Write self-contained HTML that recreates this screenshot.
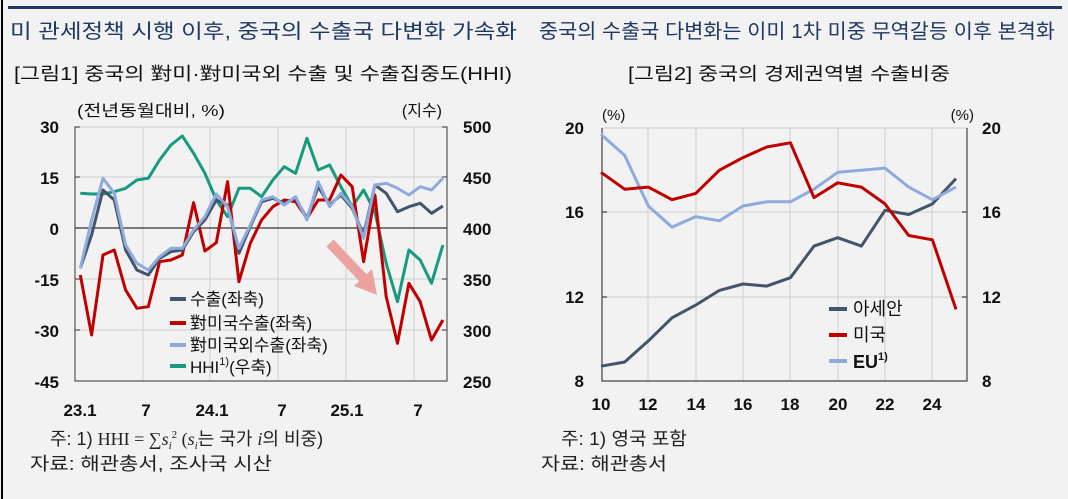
<!DOCTYPE html>
<html><head><meta charset="utf-8">
<style>
html,body{margin:0;padding:0;background:#f2f2f2;}
svg{display:block;font-family:"Liberation Sans","Noto Sans CJK KR",sans-serif;}
</style></head>
<body>
<svg id="s" width="1068" height="499" viewBox="0 0 1068 499" xmlns="http://www.w3.org/2000/svg">
<rect x="0" y="0" width="1068" height="499" fill="#f2f2f2"/>
<line x1="2" y1="0" x2="2" y2="499" stroke="#000" stroke-width="2"/>
<line x1="8" y1="7.5" x2="1062" y2="7.5" stroke="#1f3864" stroke-width="3"/>
<text x="10" y="38" font-size="20" fill="#1f3864" textLength="507" lengthAdjust="spacingAndGlyphs">미 관세정책 시행 이후, 중국의 수출국 다변화 가속화</text>
<text x="539" y="38" font-size="20" fill="#1f3864" textLength="516" lengthAdjust="spacingAndGlyphs">중국의 수출국 다변화는 이미 1차 미중 무역갈등 이후 본격화</text>
<text x="14" y="80" font-size="18" fill="#111" textLength="498" lengthAdjust="spacingAndGlyphs">[그림1] 중국의 對미·對미국외 수출 및 수출집중도(HHI)</text>
<text x="628" y="80" font-size="18" fill="#111" textLength="322" lengthAdjust="spacingAndGlyphs">[그림2] 중국의 경제권역별 수출비중</text>

<!-- chart 1 -->
<g id="c1">
<g stroke="#cfcfcf" stroke-width="1">
<line x1="143" y1="127" x2="143" y2="381"/><line x1="210" y1="127" x2="210" y2="381"/>
<line x1="278" y1="127" x2="278" y2="381"/><line x1="346" y1="127" x2="346" y2="381"/>
<line x1="414" y1="127" x2="414" y2="381"/>
<line x1="75" y1="127" x2="447" y2="127"/><line x1="75" y1="177" x2="447" y2="177"/>
<line x1="75" y1="279" x2="447" y2="279"/><line x1="75" y1="330" x2="447" y2="330"/>
</g>
<line x1="75" y1="228" x2="447" y2="228" stroke="#333" stroke-width="1.3"/>
<g stroke="#555" stroke-width="1.2" fill="none">
<path d="M80 127 H75 V381 H447 V127 H442"/>
<path d="M75 177 h5 M75 279 h5 M75 330 h5 M447 177 h-5 M447 279 h-5 M447 330 h-5"/>
</g>
<g font-size="17" font-weight="bold" fill="#111" text-anchor="end">
<text x="59" y="133">30</text><text x="59" y="184">15</text><text x="59" y="235">0</text>
<text x="59" y="286">-15</text><text x="59" y="337">-30</text><text x="59" y="388">-45</text>
</g>
<g font-size="17" font-weight="bold" fill="#111">
<text x="463" y="133">500</text><text x="463" y="184">450</text><text x="463" y="235">400</text>
<text x="463" y="286">350</text><text x="463" y="337">300</text><text x="463" y="388">250</text>
</g>
<g font-size="17" font-weight="bold" fill="#111" text-anchor="middle">
<text x="80" y="416">23.1</text><text x="146" y="416">7</text><text x="212" y="416">24.1</text>
<text x="282" y="416">7</text><text x="347" y="416">25.1</text><text x="418" y="416">7</text>
</g>
<text x="77" y="116" font-size="16" fill="#111" textLength="148" lengthAdjust="spacingAndGlyphs">(전년동월대비, %)</text>
<text x="442" y="116" font-size="16" fill="#111" text-anchor="end">(지수)</text>
<!-- arrow -->
<line x1="330" y1="243" x2="366" y2="281" stroke="#eba3a0" stroke-width="10"/>
<polygon points="377,295 354,286 372,269" fill="#eba3a0"/>
<polyline id="g1" fill="none" stroke="#179a7e" stroke-width="3" stroke-linejoin="round"/>
<polyline id="r1" fill="none" stroke="#c00000" stroke-width="3" stroke-linejoin="round"/>
<polyline id="d1" fill="none" stroke="#44546a" stroke-width="3" stroke-linejoin="round"/>
<polyline id="l1" fill="none" stroke="#8faadc" stroke-width="3" stroke-linejoin="round"/>
<g stroke-width="4">
<line x1="170" y1="299" x2="186" y2="299" stroke="#44546a"/>
<line x1="170" y1="323" x2="186" y2="323" stroke="#c00000"/>
<line x1="170" y1="345" x2="186" y2="345" stroke="#8faadc"/>
<line x1="170" y1="366" x2="186" y2="366" stroke="#179a7e"/>
</g>
<g font-size="17" fill="#111">
<text x="190" y="305">수출(좌축)</text>
<text x="190" y="329">對미국수출(좌축)</text>
<text x="190" y="351">對미국외수출(좌축)</text>
<text x="190" y="373">HHI<tspan font-size="11" dy="-8">1)</tspan><tspan dy="8">(우축)</tspan></text>
</g>
</g>

<!-- chart 2 -->
<g id="c2">
<g stroke="#cfcfcf" stroke-width="1">
<line x1="648" y1="128" x2="648" y2="381"/><line x1="696" y1="128" x2="696" y2="381"/>
<line x1="743" y1="128" x2="743" y2="381"/><line x1="790" y1="128" x2="790" y2="381"/>
<line x1="838" y1="128" x2="838" y2="381"/><line x1="885" y1="128" x2="885" y2="381"/>
<line x1="932" y1="128" x2="932" y2="381"/>
<line x1="602" y1="128" x2="967" y2="128"/><line x1="602" y1="212" x2="967" y2="212"/>
<line x1="602" y1="297" x2="967" y2="297"/>
</g>
<g stroke="#444" stroke-width="1.2" fill="none">
<path d="M602 128 V381 H967 V128"/>
<path d="M602 212 h5 M602 297 h5 M967 212 h-5 M967 297 h-5"/>
</g>
<g font-size="17" font-weight="bold" fill="#111" text-anchor="end">
<text x="584" y="134">20</text><text x="584" y="218">16</text><text x="584" y="303">12</text><text x="584" y="387">8</text>
</g>
<g font-size="17" font-weight="bold" fill="#111">
<text x="982" y="134">20</text><text x="982" y="218">16</text><text x="982" y="303">12</text><text x="982" y="387">8</text>
</g>
<g font-size="17" font-weight="bold" fill="#111" text-anchor="middle">
<text x="601" y="410">10</text><text x="648" y="410">12</text><text x="696" y="410">14</text>
<text x="743" y="410">16</text><text x="790" y="410">18</text><text x="838" y="410">20</text>
<text x="885" y="410">22</text><text x="932" y="410">24</text>
</g>
<text x="602" y="120" font-size="15" fill="#111">(%)</text>
<text x="974" y="120" font-size="15" fill="#111" text-anchor="end">(%)</text>
<polyline id="a2" fill="none" stroke="#44546a" stroke-width="3" stroke-linejoin="round"/>
<polyline id="e2" fill="none" stroke="#8faadc" stroke-width="3" stroke-linejoin="round"/>
<polyline id="u2" fill="none" stroke="#c00000" stroke-width="3" stroke-linejoin="round"/>
<g stroke-width="4">
<line x1="829" y1="309" x2="847" y2="309" stroke="#44546a"/>
<line x1="829" y1="335" x2="847" y2="335" stroke="#c00000"/>
<line x1="829" y1="361" x2="847" y2="361" stroke="#8faadc"/>
</g>
<g font-size="18" fill="#111">
<text x="853" y="315">아세안</text>
<text x="853" y="341">미국</text>
<text x="853" y="368" font-weight="bold">EU<tspan font-size="11" dy="-8">1)</tspan></text>
</g>
</g>

<!-- notes -->
<text x="50" y="445" font-size="18" fill="#222">주: 1) <tspan font-family="Liberation Serif">HHI = ∑<tspan font-style="italic">s</tspan><tspan font-style="italic" font-size="11" dy="4">i</tspan><tspan font-size="11" dy="-11">2</tspan><tspan dy="7">  (</tspan><tspan font-style="italic">s</tspan><tspan font-style="italic" font-size="11" dy="4">i</tspan></tspan><tspan dy="-4">는 국가 </tspan><tspan font-family="Liberation Serif" font-style="italic">i</tspan>의 비중)</text>
<text x="30" y="470" font-size="18" fill="#222" textLength="242" lengthAdjust="spacingAndGlyphs">자료: 해관총서, 조사국 시산</text>
<text x="561" y="445" font-size="18" fill="#222" textLength="126" lengthAdjust="spacingAndGlyphs">주: 1) 영국 포함</text>
<text x="541" y="470" font-size="18" fill="#222" textLength="126" lengthAdjust="spacingAndGlyphs">자료: 해관총서</text>
</svg>
<script>
function pts1(arr){return arr.map(function(py,i){return (80.3+i*11.33).toFixed(1)+","+(120+py/3).toFixed(1);}).join(" ");}
var red=[465,645,405,390,510,565,560,425,420,405,248,393,368,185,485,370,300,260,240,245,295,240,240,165,200,425,225,530,670,490,545,660,600];
var dark=[445,345,210,240,390,450,465,415,395,390,335,300,240,255,400,320,245,235,250,235,295,200,255,225,265,345,195,220,275,260,250,280,258];
var light=[445,300,175,220,375,430,450,410,385,385,330,290,222,260,385,315,240,230,255,230,300,185,260,220,260,355,195,190,205,225,200,210,175];
var green=[220,222,222,215,205,180,175,120,75,48,100,160,240,290,205,205,230,180,140,160,55,150,135,200,260,210,275,430,545,390,420,490,375];
document.getElementById("r1").setAttribute("points",pts1(red));
document.getElementById("d1").setAttribute("points",pts1(dark));
document.getElementById("l1").setAttribute("points",pts1(light));
document.getElementById("g1").setAttribute("points",pts1(green));
function pts2(arr){return arr.map(function(v,i){return (601+i*23.67).toFixed(1)+","+(381-(v-8)*21.08).toFixed(1);}).join(" ");}
document.getElementById("a2").setAttribute("points",pts2([8.7,8.9,9.9,11.0,11.6,12.3,12.6,12.5,12.9,14.4,14.8,14.4,16.1,15.9,16.4,17.6]));
document.getElementById("u2").setAttribute("points",pts2([17.9,17.1,17.2,16.6,16.9,18.0,18.6,19.1,19.3,16.7,17.4,17.2,16.4,14.9,14.7,11.4]));
document.getElementById("e2").setAttribute("points",pts2([19.7,18.7,16.3,15.3,15.8,15.6,16.3,16.5,16.5,17.1,17.9,18.0,18.1,17.2,16.6,17.2]));
</script>
</body></html>
